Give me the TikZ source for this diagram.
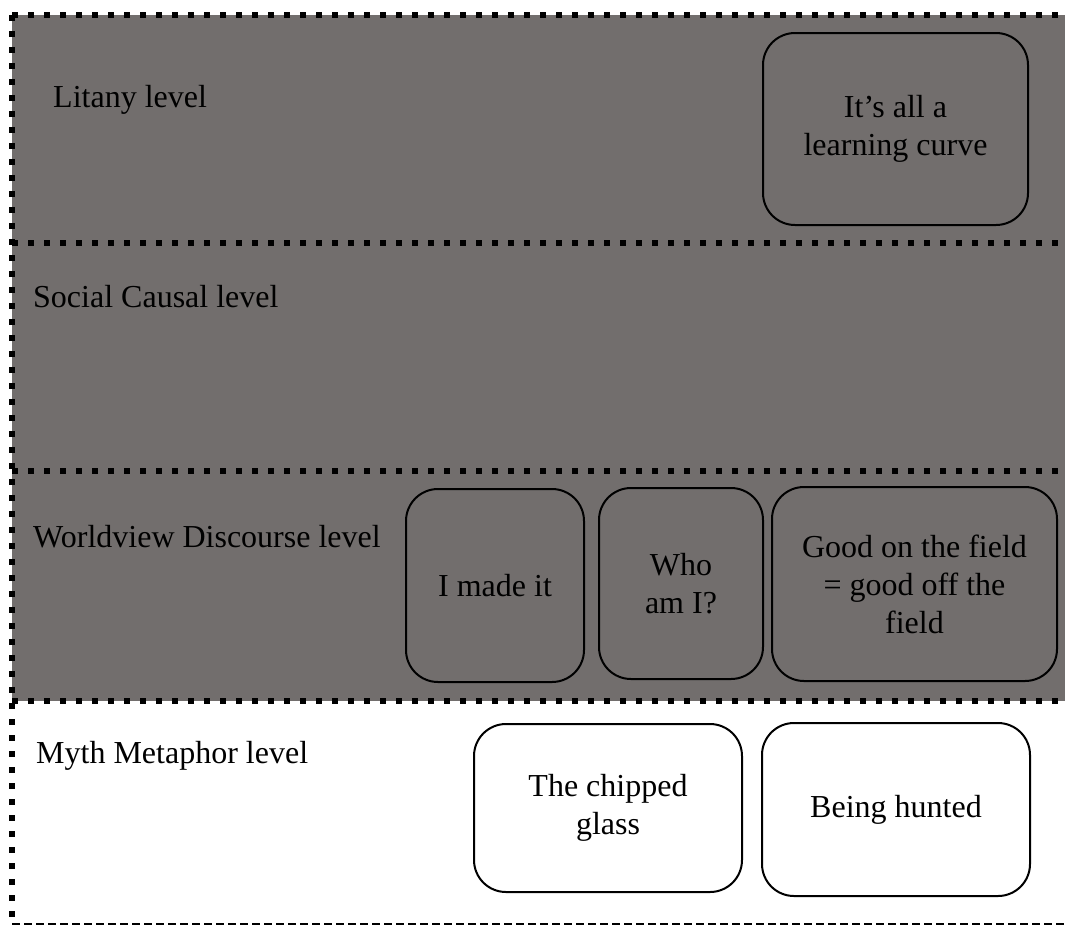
\documentclass[tikz,border=0pt]{standalone}
\usepackage{fontspec}
\setmainfont{Liberation Serif}
\definecolor{bandgray}{RGB}{114,110,109}
\begin{document}
\begin{tikzpicture}[x=1pt,y=-1pt,
  lvltext/.style={anchor=base west,inner sep=0pt,font=\fontsize{32}{38}\selectfont},
  card/.style={draw=black,line width=2pt,rounded corners=32pt,align=center,
    inner sep=0pt,font=\fontsize{32}{38}\selectfont},
  sepline/.style={line width=6pt,dash pattern=on 6pt off 10pt},
  baseline/.style={line width=2pt,dash pattern=on 8pt off 4pt}]
\useasboundingbox (0,0) rectangle (1065,927);
% shaded upper three levels
\fill[bandgray] (12,15) rectangle (1065,701);
% level separators
\draw[sepline] (12,15) -- (1065,15);
\draw[sepline] (12,243) -- (1065,243);
\draw[sepline] (12,471) -- (1065,471);
\draw[sepline] (12,701) -- (1065,701);
\draw[sepline] (12,15) -- (12,924);
\draw[baseline] (12,924) -- (1065,924);
% level names
\node[lvltext] (litany) at (53,107) {Litany level};
\node[lvltext] (social) at (33,307) {Social Causal level};
\node[lvltext] (world) at (33,547) {Worldview Discourse level};
\node[lvltext] (myth) at (36,763) {Myth Metaphor level};
% themes
\node[card,minimum width=265pt,minimum height=192pt] (curve) at (895.5,129) {It’s all a\\learning curve};
\node[card,minimum width=178pt,minimum height=193pt] (made) at (495,585.5) {I made it};
\node[card,minimum width=164pt,minimum height=191pt] (who) at (681,583.5) {Who\\am I?};
\node[card,minimum width=285pt,minimum height=194pt] (good) at (914.5,584) {Good on the field\\= good off the\\field};
\node[card,fill=white,minimum width=268pt,minimum height=168pt] (chipped) at (608,808) {The chipped\\glass};
\node[card,fill=white,minimum width=268pt,minimum height=173pt] (hunted) at (896,809.5) {Being hunted};
\end{tikzpicture}
\end{document}
